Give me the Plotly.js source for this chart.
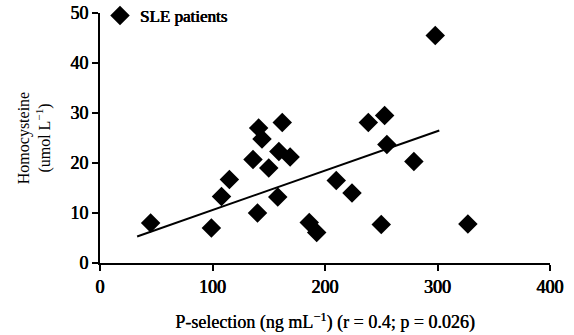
<!DOCTYPE html>
<html>
<head>
<meta charset="utf-8">
<script src="https://cdn.plot.ly/plotly-3.0.1.min.js"></script>
<style>html,body{margin:0;padding:0;background:#fff;}#chart{width:574px;height:335px;}</style>
</head>
<body>
<div id="chart"></div>
<script>
// P-selection (ng/mL) values of SLE patients
const pSelection = [45, 99, 108, 115, 136, 141, 144, 140, 150, 158, 159, 162, 169, 186, 192.6, 210, 224, 238.5, 253, 255, 250, 279, 298, 327];
// Homocysteine (umol/L) values
const homocysteine = [8.0, 7.0, 13.3, 16.7, 20.7, 27.0, 24.8, 10.0, 19.0, 13.2, 22.3, 28.1, 21.2, 8.1, 6.1, 16.5, 14.0, 28.1, 29.5, 23.7, 7.7, 20.3, 45.5, 7.8];
// Regression line ends
const trendX = [33, 301.6];
const trendY = [5.3, 26.5];
const xTicks = [0, 100, 200, 300, 400];
const yTicks = [0, 10, 20, 30, 40, 50];
const seriesName = 'SLE patients';

const serif = 'Liberation Serif';
const fakeBold = '0.45px 0 0 #000, -0.2px 0 0 #000';

const traces = [
  {
    x: pSelection, y: homocysteine, type: 'scatter', mode: 'markers', name: seriesName,
    marker: {symbol: 'diamond', size: 15, color: '#000'}
  },
  {
    x: trendX, y: trendY, type: 'scatter', mode: 'lines', showlegend: false,
    line: {color: '#000', width: 2}
  }
];

const layout = {
  width: 574, height: 335,
  margin: {l: 100, r: 24, t: 13, b: 72, autoexpand: false},
  paper_bgcolor: '#fff', plot_bgcolor: '#fff',
  font: {family: serif, color: '#000'},
  showlegend: true,
  legend: {x: 0.0, y: 1.06, xanchor: 'left', yanchor: 'top', bgcolor: 'rgba(0,0,0,0)',
           font: {family: serif, size: 17, color: '#000', shadow: fakeBold}},
  xaxis: {
    range: [0, 400], tickvals: xTicks, ticktext: xTicks.map(String),
    showline: true, linecolor: '#000', linewidth: 2, mirror: false,
    ticks: 'outside', ticklen: 6, tickwidth: 2, tickcolor: '#000',
    showgrid: false, zeroline: false,
    tickfont: {family: serif, size: 18, color: '#000', shadow: fakeBold},
    title: {text: 'P-selection (ng mL<sup>\u22121</sup>) (r = 0.4; p = 0.026)', standoff: 20,
            font: {family: serif, size: 18, color: '#000', shadow: '0.3px 0 0 #000'}}
  },
  yaxis: {
    range: [0, 50], tickvals: yTicks, ticktext: yTicks.map(String),
    showline: true, linecolor: '#000', linewidth: 2,
    ticks: 'outside', ticklen: 6, tickwidth: 2, tickcolor: '#000',
    showgrid: false, zeroline: false,
    tickfont: {family: serif, size: 18, color: '#000', shadow: fakeBold},
    title: {text: 'Homocysteine<br>(umol L<sup>\u22121</sup>)', standoff: 16,
            font: {family: serif, size: 16, color: '#000'}}
  }
};

Plotly.newPlot('chart', traces, layout, {displayModeBar: false, staticPlot: true});
</script>
</body>
</html>
